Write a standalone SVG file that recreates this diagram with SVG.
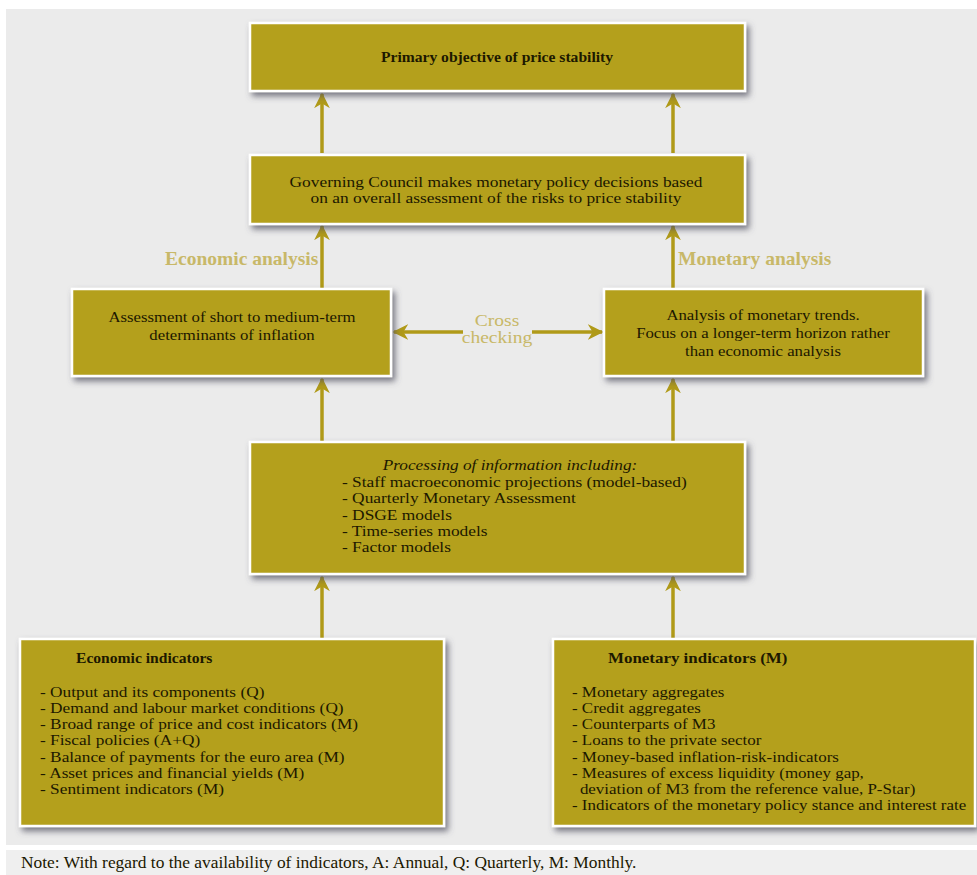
<svg xmlns="http://www.w3.org/2000/svg" width="977" height="875" viewBox="0 0 977 875">
<defs>
<filter id="sh" x="-10%" y="-20%" width="125%" height="150%">
<feDropShadow dx="3" dy="4" stdDeviation="3" flood-color="#505060" flood-opacity="0.75"/>
</filter>
<marker id="ah" viewBox="0 0 10 10" refX="9" refY="5" markerWidth="4.5" markerHeight="4.5" orient="auto-start-reverse" markerUnits="strokeWidth">
<path d="M0,0 L10,5 L0,10 L3,5 z" fill="#b09a18"/>
</marker>
<style>
.box{fill:#b4a01c;stroke:#ffffff;stroke-width:2.5;filter:url(#sh)}
.t{font-family:"Liberation Serif","Times New Roman",serif;fill:#1c1800;font-size:15px}
.b{font-family:"Liberation Serif","Times New Roman",serif;fill:#1c1800;font-weight:bold;font-size:15.6px}
.n{font-family:"Liberation Serif","Times New Roman",serif;fill:#1c1800;font-size:17.4px}
.c{text-anchor:middle}
.lbl{font-family:"Liberation Serif","Times New Roman",serif;fill:#c8b868;font-weight:bold;font-size:19.5px}
.cc{font-family:"Liberation Serif","Times New Roman",serif;fill:#c8b868;font-size:17px;text-anchor:middle}
.ln{stroke:#b09a18;stroke-width:3.5;fill:none}
</style>
</defs>
<rect x="0" y="0" width="977" height="875" fill="#ffffff"/>
<rect x="6" y="9" width="971" height="836" fill="#ebebeb"/>
<rect x="6" y="850" width="971" height="25" fill="#efefef"/>

<g id="connectors">
<line class="ln" x1="322" y1="153" x2="322" y2="94" marker-end="url(#ah)"/>
<line class="ln" x1="673" y1="153" x2="673" y2="94" marker-end="url(#ah)"/>
<line class="ln" x1="322" y1="288" x2="322" y2="226" marker-end="url(#ah)"/>
<line class="ln" x1="673" y1="288" x2="673" y2="226" marker-end="url(#ah)"/>
<line class="ln" x1="322" y1="441" x2="322" y2="379" marker-end="url(#ah)"/>
<line class="ln" x1="673" y1="441" x2="673" y2="379" marker-end="url(#ah)"/>
<line class="ln" x1="322" y1="638" x2="322" y2="577" marker-end="url(#ah)"/>
<line class="ln" x1="673" y1="638" x2="673" y2="577" marker-end="url(#ah)"/>
<line class="ln" x1="463" y1="332" x2="394" y2="332" marker-end="url(#ah)"/>
<line class="ln" x1="532" y1="332" x2="602" y2="332" marker-end="url(#ah)"/>
<g transform="translate(497,0) scale(1.15,1)">
<text class="cc" x="0" y="326">Cross</text>
<text class="cc" x="0" y="343">checking</text>
</g>
<text class="lbl" x="165" y="265">Economic analysis</text>
<text class="lbl" x="678" y="265">Monetary analysis</text>
</g>

<g id="n-primary">
<rect class="box" x="250" y="23" width="495" height="68"/>
<text class="b c" x="497" y="62">Primary objective of price stability</text>
</g>

<g id="n-council">
<rect class="box" x="250" y="155" width="495" height="69"/>
<g transform="translate(496,0) scale(1.159,1)">
<text class="t c" x="0" y="187">Governing Council makes monetary policy decisions based</text>
<text class="t c" x="0" y="203">on an overall assessment of the risks to price stability</text>
</g>
</g>

<g id="n-econ-assess">
<rect class="box" x="72" y="289" width="319" height="87"/>
<g transform="translate(232,0) scale(1.116,1)">
<text class="t c" x="0" y="322">Assessment of short to medium-term</text>
<text class="t c" x="0" y="340">determinants of inflation</text>
</g>
</g>

<g id="n-mon-assess">
<rect class="box" x="604" y="289" width="319" height="87"/>
<g transform="translate(763,0) scale(1.116,1)">
<text class="t c" x="0" y="320">Analysis of monetary trends.</text>
<text class="t c" x="0" y="338">Focus on a longer-term horizon rather</text>
<text class="t c" x="0" y="356">than economic analysis</text>
</g>
</g>

<g id="n-processing">
<rect class="box" x="250" y="442" width="495" height="132"/>
<g transform="translate(510,0) scale(1.15,1)">
<text class="t c" x="0" y="470" font-style="italic">Processing of information including:</text>
</g>
<g transform="translate(342,0) scale(1.157,1)">
<text class="t" x="0" y="487">- Staff macroeconomic projections (model-based)</text>
<text class="t" x="0" y="503">- Quarterly Monetary Assessment</text>
<text class="t" x="0" y="520">- DSGE models</text>
<text class="t" x="0" y="536">- Time-series models</text>
<text class="t" x="0" y="552">- Factor models</text>
</g>
</g>

<g id="n-econ-ind">
<rect class="box" x="20" y="639" width="424" height="187"/>
<text class="b" x="76" y="663">Economic indicators</text>
<g transform="translate(40,0) scale(1.154,1)">
<text class="t" x="0" y="697">- Output and its components (Q)</text>
<text class="t" x="0" y="713">- Demand and labour market conditions (Q)</text>
<text class="t" x="0" y="729">- Broad range of price and cost indicators (M)</text>
<text class="t" x="0" y="745">- Fiscal policies (A+Q)</text>
<text class="t" x="0" y="762">- Balance of payments for the euro area (M)</text>
<text class="t" x="0" y="778">- Asset prices and financial yields (M)</text>
<text class="t" x="0" y="794">- Sentiment indicators (M)</text>
</g>
</g>

<g id="n-mon-ind">
<rect class="box" x="553" y="639" width="422" height="187"/>
<g transform="translate(608,0) scale(1.085,1)">
<text class="b" x="0" y="663">Monetary indicators (M)</text>
</g>
<g transform="translate(572,0) scale(1.129,1)">
<text class="t" x="0" y="697">- Monetary aggregates</text>
<text class="t" x="0" y="713">- Credit aggregates</text>
<text class="t" x="0" y="729">- Counterparts of M3</text>
<text class="t" x="0" y="745">- Loans to the private sector</text>
<text class="t" x="0" y="762">- Money-based inflation-risk-indicators</text>
<text class="t" x="0" y="778">- Measures of excess liquidity (money gap,</text>
<text class="t" x="7" y="794">deviation of M3 from the reference value, P-Star)</text>
<text class="t" x="0" y="810">- Indicators of the monetary policy stance and interest rate</text>
</g>
</g>

<text class="n" x="21" y="868">Note: With regard to the availability of indicators, A: Annual, Q: Quarterly, M: Monthly.</text>
</svg>
